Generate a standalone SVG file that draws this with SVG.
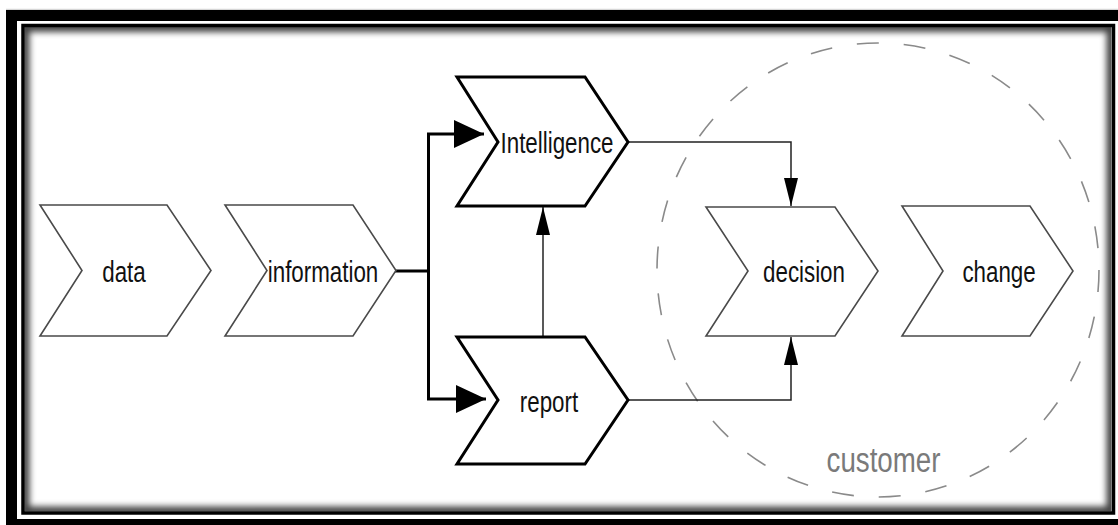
<svg xmlns="http://www.w3.org/2000/svg" width="1118" height="525" viewBox="0 0 1118 525">
  <style>
    .chev { fill: #ffffff; stroke: #4a4a4a; stroke-width: 1.6; stroke-linejoin: miter; }
    .chev-bold { fill: #ffffff; stroke: #000000; stroke-width: 3; stroke-linejoin: miter; }
    .label { font-family: "Liberation Sans", Arial, sans-serif; font-size: 29px; fill: #111111; text-anchor: middle; }
    .group-label { font-family: "Liberation Sans", Arial, sans-serif; font-size: 36px; fill: #7a7a7a; text-anchor: middle; }
    .link { fill: none; stroke: #222222; stroke-width: 1.5; }
    .link-bold { fill: none; stroke: #000000; stroke-width: 3; }
  </style>
  <defs>
    <marker id="head-big" viewBox="0 0 30 28" refX="30" refY="14" markerWidth="30" markerHeight="28" markerUnits="userSpaceOnUse" orient="auto">
      <path d="M0,0 L30,14 L0,28 Z" fill="#000"/>
    </marker>
    <marker id="head-small" viewBox="0 0 28 14" refX="28" refY="7" markerWidth="28" markerHeight="14" markerUnits="userSpaceOnUse" orient="auto">
      <path d="M0,0 L28,7 L0,14 Z" fill="#000"/>
    </marker>
    <clipPath id="panel">
      <rect x="24.5" y="27" width="1087" height="484.5"/>
    </clipPath>
    <filter id="soft" x="-5%" y="-5%" width="110%" height="110%">
      <feGaussianBlur stdDeviation="3"/>
    </filter>
  </defs>

  <!-- page background -->
  <rect x="0" y="0" width="1118" height="525" fill="#ffffff"/>
  <line x1="6" y1="9.3" x2="1118" y2="9.3" stroke="#cccccc" stroke-width="1"/>

  <!-- frame: heavy outer band, thin inner rule, inset shadow -->
  <rect x="11.5" y="15.5" width="1120" height="509" fill="none" stroke="#000" stroke-width="11"/>
  <g clip-path="url(#panel)">
    <rect x="24.5" y="27" width="1087" height="484.5" fill="none" stroke="#000" stroke-width="10" opacity="0.75" filter="url(#soft)"/>
  </g>
  <rect x="23" y="25.5" width="1090.5" height="487.5" fill="none" stroke="#000" stroke-width="3.5"/>

  <!-- customer boundary -->
  <g id="customer">
    <ellipse cx="878" cy="270" rx="221" ry="227" fill="none" stroke="#8a8a8a" stroke-width="1.6" stroke-dasharray="22 25"/>
    <text class="group-label" transform="translate(883.5,472) scale(0.77,1)">customer</text>
  </g>

  <!-- connectors -->
  <g id="connectors">
    <path class="link-bold" d="M395,271 H428.5"/>
    <path class="link-bold" d="M428.5,134 V399"/>
    <path class="link-bold" d="M427,134 H484" marker-end="url(#head-big)"/>
    <path class="link-bold" d="M427,399 H486" marker-end="url(#head-big)"/>
    <path class="link" d="M543,337 V207" marker-end="url(#head-small)"/>
    <path class="link" d="M628,142 H791 V206" marker-end="url(#head-small)"/>
    <path class="link" d="M628,400 H791 V337" marker-end="url(#head-small)"/>
  </g>

  <!-- process steps -->
  <g id="data">
    <path class="chev" d="M40,205 H167 L211,270.5 L167,336 H40 L82,270.5 Z"/>
    <text class="label" transform="translate(124,282) scale(0.77,1)">data</text>
  </g>
  <g id="information">
    <path class="chev" d="M225,205 H353 L396,270.5 L353,336 H225 L267,270.5 Z"/>
    <text class="label" transform="translate(323,282) scale(0.77,1)">information</text>
  </g>
  <g id="intelligence">
    <path class="chev-bold" d="M457,77 H585 L628,142 L585,206 H457 L498,142 Z"/>
    <text class="label" transform="translate(557,153) scale(0.77,1)">Intelligence</text>
  </g>
  <g id="report">
    <path class="chev-bold" d="M457,337 H585 L628,400 L585,464 H457 L498,400 Z"/>
    <text class="label" transform="translate(549,412) scale(0.77,1)">report</text>
  </g>
  <g id="decision">
    <path class="chev" d="M706,207 H835 L878,271 L835,336 H706 L748,271 Z"/>
    <text class="label" transform="translate(804,282) scale(0.77,1)">decision</text>
  </g>
  <g id="change">
    <path class="chev" d="M902,206 H1030 L1073,271 L1030,336 H902 L943,271 Z"/>
    <text class="label" transform="translate(999,282) scale(0.77,1)">change</text>
  </g>
</svg>
